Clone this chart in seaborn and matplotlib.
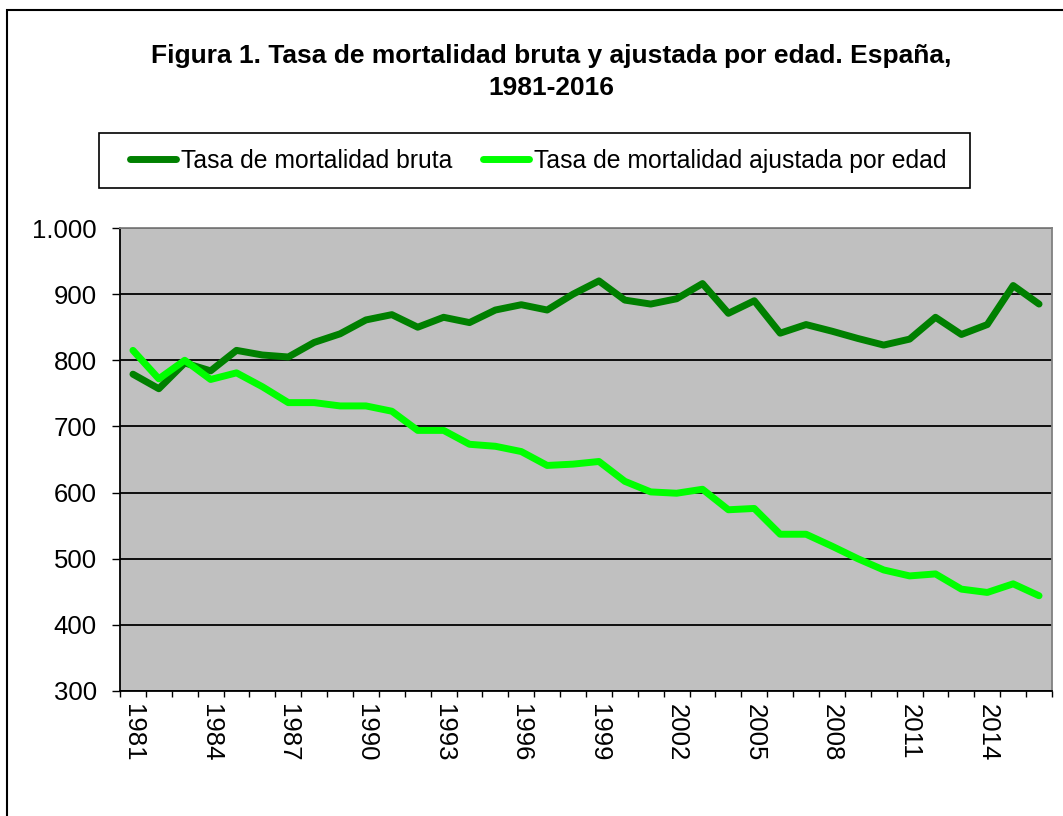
import pandas as pd
import matplotlib.pyplot as plt
import seaborn as sns
from matplotlib.ticker import FuncFormatter, FixedLocator
from matplotlib.patches import Rectangle

anios = list(range(1981, 2017))
tasa_bruta = [779, 757, 796, 784, 815, 808, 805, 827, 840, 861, 869, 850,
              865, 857, 876, 884, 876, 900, 920, 891, 885, 893, 916, 871,
              890, 841, 854, 844, 833, 823, 832, 865, 839, 854, 913, 885]
tasa_ajustada = [815, 772, 800, 771, 781, 760, 736, 736, 731, 731, 723, 694,
                 694, 673, 670, 662, 641, 643, 647, 617, 601, 599, 605, 574,
                 576, 537, 537, 519, 500, 483, 474, 477, 454, 449, 462, 444]
series = ["Tasa de mortalidad bruta", "Tasa de mortalidad ajustada por edad"]
colores = ["#008000", "#00FF00"]

df = pd.DataFrame({
    "anio": anios * 2,
    "tasa": tasa_bruta + tasa_ajustada,
    "serie": [series[0]] * len(anios) + [series[1]] * len(anios),
})

sns.set_theme(style="white", rc={"text.color": "black", "xtick.color": "black",
                                 "ytick.color": "black", "axes.labelcolor": "black"})
plt.rcParams['font.family'] = ['Liberation Sans', 'DejaVu Sans']

W, H = 1063, 816
fig = plt.figure(figsize=(W / 100, H / 100), dpi=100)
ax = fig.add_axes([120 / W, 1 - 691 / H, 932 / W, 463 / H])
ax.set_facecolor("#C0C0C0")

sns.lineplot(data=df, x="anio", y="tasa", hue="serie", palette=colores,
             linewidth=5, ax=ax, legend=False, solid_capstyle="round")

ax.set_xlim(1980.5, 2016.5)
ax.set_ylim(300, 1000)
ax.set_yticks(range(300, 1001, 100))
ax.yaxis.set_major_formatter(FuncFormatter(lambda v, p: f"{int(v):,}".replace(",", ".")))
ax.grid(axis="y", color="black", linewidth=1.3)
ax.set_axisbelow(True)

ax.set_xticks(anios[::3])
ax.set_xticklabels([str(a) for a in anios[::3]], rotation=270)
ax.xaxis.set_minor_locator(FixedLocator([a - 0.5 for a in anios] + [2016.5]))
ax.tick_params(axis="x", which="major", length=0, pad=9, labelsize=18.5)
ax.tick_params(axis="x", which="minor", length=4.5, width=1, color="black", direction="out", bottom=True)
ax.tick_params(axis="y", length=5.8, width=1, color="black", direction="out", left=True, labelsize=18.5, pad=11)
ax.set_xlabel("")
ax.set_ylabel("")

for s in ["left", "bottom"]:
    ax.spines[s].set_color("black")
    ax.spines[s].set_linewidth(1.3)
for s in ["top", "right"]:
    ax.spines[s].set_color("#808080")
    ax.spines[s].set_linewidth(1.3)

fig.text(551 / W, 1 - 72 / H,
         "Figura 1. Tasa de mortalidad bruta y ajustada por edad. España,\n1981-2016",
         ha="center", va="center", fontsize=19, weight="bold", linespacing=1.38,
         color="black")

# caja de la leyenda
fig.patches.append(Rectangle((99 / W, 1 - 188 / H), 871 / W, 55 / H,
                             transform=fig.transFigure, fill=False,
                             edgecolor="black", linewidth=1.2))

handles = [plt.Line2D([], [], color=c, linewidth=5) for c in colores]
leg = fig.legend(handles, series, ncol=2, loc="center left",
                 bbox_to_anchor=(130 / W, 1 - 161 / H),
                 fontsize=17.8, frameon=False, handlelength=1.86,
                 handletextpad=0.19, columnspacing=1.26,
                 borderpad=0, borderaxespad=0)
for t in leg.get_texts():
    t.set_color("black")

fig.patches.append(Rectangle((7 / W, -0.1), 1.2, 1 - 10 / H + 0.1,
                             transform=fig.transFigure, fill=False,
                             edgecolor="black", linewidth=1.5))

fig.savefig("out.png", dpi=100)
